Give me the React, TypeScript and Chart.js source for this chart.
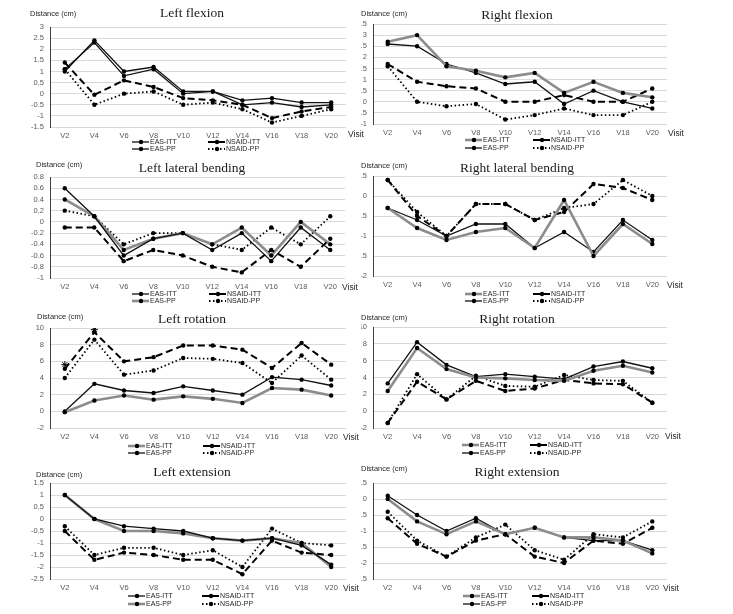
import React, { useEffect, useRef } from "react";
import { Chart, registerables } from "chart.js";
Chart.register(...registerables);

const visits = ["V2", "V4", "V6", "V8", "V10", "V12", "V14", "V16", "V18", "V20"];
const legendNames = ["EAS-ITT", "NSAID-ITT", "EAS-PP", "NSAID-PP"];

const leftFlexionEasItt = [1.0, 2.4, 1.0, 1.2, 0.1, 0.1, -0.3, -0.2, -0.4, -0.4];
const leftFlexionEasPp = [1.1, 2.3, 0.8, 1.1, 0.0, 0.1, -0.5, -0.4, -0.6, -0.5];
const leftFlexionNsaidItt = [1.4, -0.05, 0.6, 0.3, -0.2, -0.3, -0.5, -1.1, -0.8, -0.6];
const leftFlexionNsaidPp = [1.1, -0.5, 0.0, 0.1, -0.5, -0.4, -0.7, -1.3, -1.0, -0.7];

const rightFlexionEasItt = [2.7, 3.0, 1.6, 1.4, 1.1, 1.3, 0.4, 0.9, 0.4, 0.2];
const rightFlexionEasPp = [2.6, 2.5, 1.7, 1.3, 0.8, 0.9, -0.1, 0.5, 0.0, -0.3];
const rightFlexionNsaidItt = [1.7, 0.9, 0.7, 0.6, 0.0, 0.0, 0.3, 0.0, 0.0, 0.6];
const rightFlexionNsaidPp = [1.6, 0.0, -0.2, -0.1, -0.8, -0.6, -0.3, -0.6, -0.6, 0.0];

const leftLateralEasItt = [0.6, 0.1, -0.6, -0.3, -0.2, -0.5, -0.2, -0.7, -0.1, -0.5];
const leftLateralEasPp = [0.4, 0.1, -0.5, -0.3, -0.2, -0.4, -0.1, -0.6, 0.0, -0.4];
const leftLateralNsaidItt = [-0.1, -0.1, -0.7, -0.5, -0.6, -0.8, -0.9, -0.5, -0.8, -0.3];
const leftLateralNsaidPp = [0.2, 0.1, -0.4, -0.2, -0.2, -0.4, -0.5, -0.1, -0.4, 0.1];

const rightLateralEasItt = [-0.3, -0.8, -1.1, -0.9, -0.8, -1.3, -0.1, -1.5, -0.7, -1.2];
const rightLateralEasPp = [-0.3, -0.6, -1.0, -0.7, -0.7, -1.3, -0.9, -1.4, -0.6, -1.1];
const rightLateralNsaidItt = [0.4, -0.5, -1.0, -0.2, -0.2, -0.6, -0.4, 0.3, 0.2, -0.1];
const rightLateralNsaidPp = [0.4, -0.4, -1.0, -0.2, -0.2, -0.6, -0.3, -0.2, 0.4, 0.0];

const leftRotationEasItt = [-0.1, 1.3, 1.9, 1.4, 1.8, 1.5, 1.0, 2.8, 2.6, 1.9];
const leftRotationEasPp = [0.0, 3.3, 2.5, 2.2, 3.0, 2.5, 2.0, 4.1, 3.8, 3.1];
const leftRotationNsaidItt = [5.1, 9.5, 6.0, 6.5, 7.9, 7.9, 7.4, 5.2, 8.2, 5.6];
const leftRotationNsaidPp = [4.0, 8.6, 4.4, 4.9, 6.4, 6.3, 5.8, 3.4, 6.7, 3.8];
const leftRotationSignificance = [5.6, 9.8, null, null, null, null, null, null, null, null];

const rightRotationEasItt = [2.4, 7.5, 5.0, 4.0, 3.9, 3.7, 3.6, 4.8, 5.4, 4.6];
const rightRotationEasPp = [3.3, 8.2, 5.5, 4.1, 4.4, 4.1, 3.8, 5.3, 5.9, 5.1];
const rightRotationNsaidItt = [-1.4, 3.5, 1.4, 3.6, 2.4, 2.7, 3.7, 3.3, 3.2, 1.0];
const rightRotationNsaidPp = [-1.4, 4.4, 1.4, 4.2, 3.0, 2.9, 4.3, 3.7, 3.6, 1.0];

const leftExtensionEasItt = [1.0, 0.0, -0.3, -0.4, -0.5, -0.8, -0.9, -0.8, -1.1, -1.9];
const leftExtensionEasPp = [1.0, 0.0, -0.5, -0.5, -0.6, -0.8, -0.9, -0.8, -1.0, -2.0];
const leftExtensionNsaidItt = [-0.5, -1.7, -1.4, -1.5, -1.7, -1.7, -2.3, -0.9, -1.4, -1.5];
const leftExtensionNsaidPp = [-0.3, -1.5, -1.2, -1.2, -1.5, -1.3, -2.0, -0.4, -1.0, -1.1];

const rightExtensionEasItt = [0.0, -0.7, -1.1, -0.7, -1.1, -0.9, -1.2, -1.2, -1.3, -1.7];
const rightExtensionEasPp = [0.1, -0.5, -1.0, -0.6, -1.1, -0.9, -1.2, -1.3, -1.3, -1.6];
const rightExtensionNsaidItt = [-0.6, -1.4, -1.8, -1.3, -1.1, -1.8, -2.0, -1.3, -1.4, -0.9];
const rightExtensionNsaidPp = [-0.4, -1.3, -1.8, -1.2, -0.8, -1.6, -1.9, -1.1, -1.2, -0.7];

type Panel = {
  title: string;
  yMin: number;
  yMax: number;
  step: number;
  series: (number | null)[][];
  stars?: (number | null)[];
  grey: number | null; // index of EAS series drawn grey (0 = ITT, 2 = PP)
  box: { x: number; y: number; w: number; h: number };
  axisLeft: number; // left edge of the y-axis label strip (labels clipped here)
  area: { l: number; t: number; r: number; b: number };
  titleAt: [number, number];
  distAt: [number, number];
  visitAt: [number, number];
  legend: { x1: number; x2: number; y1: number; y2: number };
};

const LBOX = { x: 0, w: 368 };
const RBOX = { x: 345, w: 388 };

const panels: Panel[] = [
  {
    title: "Left flexion", yMin: -1.5, yMax: 3, step: 0.5,
    series: [leftFlexionEasItt, leftFlexionNsaidItt, leftFlexionEasPp, leftFlexionNsaidPp],
    grey: null,
    box: { ...LBOX, y: 0, h: 152 }, axisLeft: 20, area: { l: 50, t: 27, r: 346, b: 127 },
    titleAt: [192, 13], distAt: [30, 14], visitAt: [348, 135],
    legend: { x1: 132, x2: 208, y1: 142, y2: 149 },
  },
  {
    title: "Right flexion", yMin: -1, yMax: 3.5, step: 0.5,
    series: [rightFlexionEasItt, rightFlexionNsaidItt, rightFlexionEasPp, rightFlexionNsaidPp],
    grey: 0,
    box: { ...RBOX, y: 0, h: 152 }, axisLeft: 361, area: { l: 373, t: 24, r: 667, b: 124 },
    titleAt: [517, 15], distAt: [361, 14], visitAt: [668, 134],
    legend: { x1: 465, x2: 533, y1: 140, y2: 148 },
  },
  {
    title: "Left lateral bending", yMin: -1, yMax: 0.8, step: 0.2,
    series: [leftLateralEasItt, leftLateralNsaidItt, leftLateralEasPp, leftLateralNsaidPp],
    grey: 2,
    box: { ...LBOX, y: 152, h: 152 }, axisLeft: 20, area: { l: 50, t: 177, r: 345, b: 278 },
    titleAt: [192, 168], distAt: [36, 165], visitAt: [342, 288],
    legend: { x1: 132, x2: 209, y1: 294, y2: 301 },
  },
  {
    title: "Right lateral bending", yMin: -2, yMax: 0.5, step: 0.5,
    series: [rightLateralEasItt, rightLateralNsaidItt, rightLateralEasPp, rightLateralNsaidPp],
    grey: 0,
    box: { ...RBOX, y: 152, h: 152 }, axisLeft: 361, area: { l: 373, t: 176, r: 667, b: 276 },
    titleAt: [517, 168], distAt: [361, 166], visitAt: [667, 286],
    legend: { x1: 465, x2: 533, y1: 294, y2: 301 },
  },
  {
    title: "Left rotation", yMin: -2, yMax: 10, step: 2,
    series: [leftRotationEasItt, leftRotationNsaidItt, leftRotationEasPp, leftRotationNsaidPp],
    stars: leftRotationSignificance,
    grey: 0,
    box: { ...LBOX, y: 304, h: 152 }, axisLeft: 20, area: { l: 50, t: 328, r: 346, b: 428 },
    titleAt: [192, 319], distAt: [37, 317], visitAt: [343, 438],
    legend: { x1: 128, x2: 203, y1: 446, y2: 453 },
  },
  {
    title: "Right rotation", yMin: -2, yMax: 10, step: 2,
    series: [rightRotationEasItt, rightRotationNsaidItt, rightRotationEasPp, rightRotationNsaidPp],
    grey: 0,
    box: { ...RBOX, y: 304, h: 152 }, axisLeft: 361, area: { l: 373, t: 327, r: 667, b: 428 },
    titleAt: [517, 319], distAt: [361, 318], visitAt: [665, 437],
    legend: { x1: 462, x2: 530, y1: 445, y2: 453 },
  },
  {
    title: "Left extension", yMin: -2.5, yMax: 1.5, step: 0.5,
    series: [leftExtensionEasItt, leftExtensionNsaidItt, leftExtensionEasPp, leftExtensionNsaidPp],
    grey: 2,
    box: { ...LBOX, y: 456, h: 158 }, axisLeft: 20, area: { l: 50, t: 483, r: 346, b: 579 },
    titleAt: [192, 472], distAt: [36, 475], visitAt: [343, 589],
    legend: { x1: 128, x2: 202, y1: 596, y2: 604 },
  },
  {
    title: "Right extension", yMin: -2.5, yMax: 0.5, step: 0.5,
    series: [rightExtensionEasItt, rightExtensionNsaidItt, rightExtensionEasPp, rightExtensionNsaidPp],
    grey: 0,
    box: { ...RBOX, y: 456, h: 158 }, axisLeft: 361, area: { l: 373, t: 483, r: 667, b: 579 },
    titleAt: [517, 472], distAt: [361, 469], visitAt: [663, 589],
    legend: { x1: 463, x2: 532, y1: 596, y2: 604 },
  },
];

type Style = { color: string; width: number; dash: number[] };

function styleFor(p: Panel, i: number): Style {
  if (i === 1) return { color: "#000", width: 2, dash: [7, 4] };
  if (i === 3) return { color: "#000", width: 1.8, dash: [1.5, 2.5] };
  if (p.grey === i) return { color: "#8c8c8c", width: 2.6, dash: [] };
  return { color: "#111", width: 1.3, dash: [] };
}

function PanelChart({ p }: { p: Panel }) {
  const ref = useRef<HTMLCanvasElement | null>(null);
  useEffect(() => {
    if (!ref.current) return;
    const yW = p.area.l - p.axisLeft;
    const xH = 20;
    const pad = {
      left: p.axisLeft - p.box.x,
      top: p.area.t - p.box.y,
      right: p.box.x + p.box.w - p.area.r,
      bottom: p.box.y + p.box.h - p.area.b - xH,
    };
    const datasets: any[] = p.series.map((s, i) => {
      const st = styleFor(p, i);
      return {
        label: legendNames[i],
        data: s,
        borderColor: st.color,
        borderWidth: st.width,
        borderDash: st.dash,
        pointRadius: 2.2,
        pointBackgroundColor: "#000",
        pointBorderWidth: 0,
        tension: 0,
        fill: false,
      };
    });
    if (p.stars) {
      datasets.push({
        label: "*",
        data: p.stars,
        showLine: false,
        pointStyle: "star",
        pointRadius: 3.5,
        pointBorderColor: "#000",
        pointBorderWidth: 1,
      });
    }
    const overlay = {
      id: "overlay",
      afterDraw(chart: any) {
        const ctx = chart.ctx as CanvasRenderingContext2D;
        const ox = p.box.x;
        const oy = p.box.y;
        ctx.save();
        ctx.textBaseline = "middle";
        ctx.fillStyle = "#1a1a1a";
        ctx.textAlign = "center";
        ctx.font = '13.5px "Liberation Serif", "Times New Roman", serif';
        ctx.fillText(p.title, p.titleAt[0] - ox, p.titleAt[1] - oy);
        ctx.textAlign = "left";
        ctx.fillStyle = "#262626";
        ctx.font = '7.5px "Liberation Sans", Arial, sans-serif';
        ctx.fillText("Distance (cm)", p.distAt[0] - ox, p.distAt[1] - oy);
        ctx.font = '8.5px "Liberation Sans", Arial, sans-serif';
        ctx.fillText("Visit", p.visitAt[0] - ox, p.visitAt[1] - oy);
        const pos = [
          [p.legend.x1, p.legend.y1],
          [p.legend.x2, p.legend.y1],
          [p.legend.x1, p.legend.y2],
          [p.legend.x2, p.legend.y2],
        ];
        ctx.font = '7px "Liberation Sans", Arial, sans-serif';
        pos.forEach(([lx, ly], i) => {
          const st = styleFor(p, i);
          const x = lx - ox;
          const y = ly - oy;
          ctx.save();
          ctx.strokeStyle = st.color;
          ctx.lineWidth = st.width;
          ctx.setLineDash(st.dash);
          ctx.beginPath();
          ctx.moveTo(x, y);
          ctx.lineTo(x + 17, y);
          ctx.stroke();
          ctx.setLineDash([]);
          ctx.fillStyle = "#000";
          ctx.beginPath();
          ctx.arc(x + 9, y, 2.2, 0, Math.PI * 2);
          ctx.fill();
          ctx.restore();
          ctx.fillStyle = "#262626";
          ctx.fillText(legendNames[i], x + 18, y);
        });
        ctx.restore();
      },
    };
    const chart = new Chart(ref.current, {
      type: "line",
      data: { labels: visits, datasets },
      options: {
        animation: false,
        responsive: true,
        maintainAspectRatio: false,
        layout: { padding: pad, autoPadding: false } as any,
        plugins: { legend: { display: false }, title: { display: false }, tooltip: { enabled: false } },
        scales: {
          x: {
            offset: true,
            grid: { display: false, drawTicks: false },
            border: { display: false },
            ticks: {
              autoSkip: false,
              maxRotation: 0,
              padding: 4,
              color: "#595959",
              font: { family: '"Liberation Sans", Arial, sans-serif', size: 7.5 },
            },
            afterFit: (s: any) => { s.height = xH; },
          },
          y: {
            min: p.yMin,
            max: p.yMax,
            grid: { color: "#d9d9d9", lineWidth: 1, drawTicks: false },
            border: { display: true, color: "#404040", width: 1 },
            ticks: {
              stepSize: p.step,
              autoSkip: false,
              padding: 6,
              color: "#595959",
              font: { family: '"Liberation Sans", Arial, sans-serif', size: 7.5 },
              callback: (v: any) => String(Number(Number(v).toFixed(2))),
            },
            afterFit: (s: any) => { s.width = yW; },
          },
        },
      } as any,
      plugins: [overlay],
    });
    return () => chart.destroy();
  }, [p]);
  return (
    <div style={{ position: "absolute", left: p.box.x, top: p.box.y, width: p.box.w, height: p.box.h }}>
      <canvas ref={ref} />
    </div>
  );
}

export default function App() {
  return (
    <div style={{ position: "absolute", left: 0, top: 0, width: 733, height: 614, background: "#fff", overflow: "hidden" }}>
      {panels.map((p) => (
        <PanelChart key={p.title} p={p} />
      ))}
    </div>
  );
}
